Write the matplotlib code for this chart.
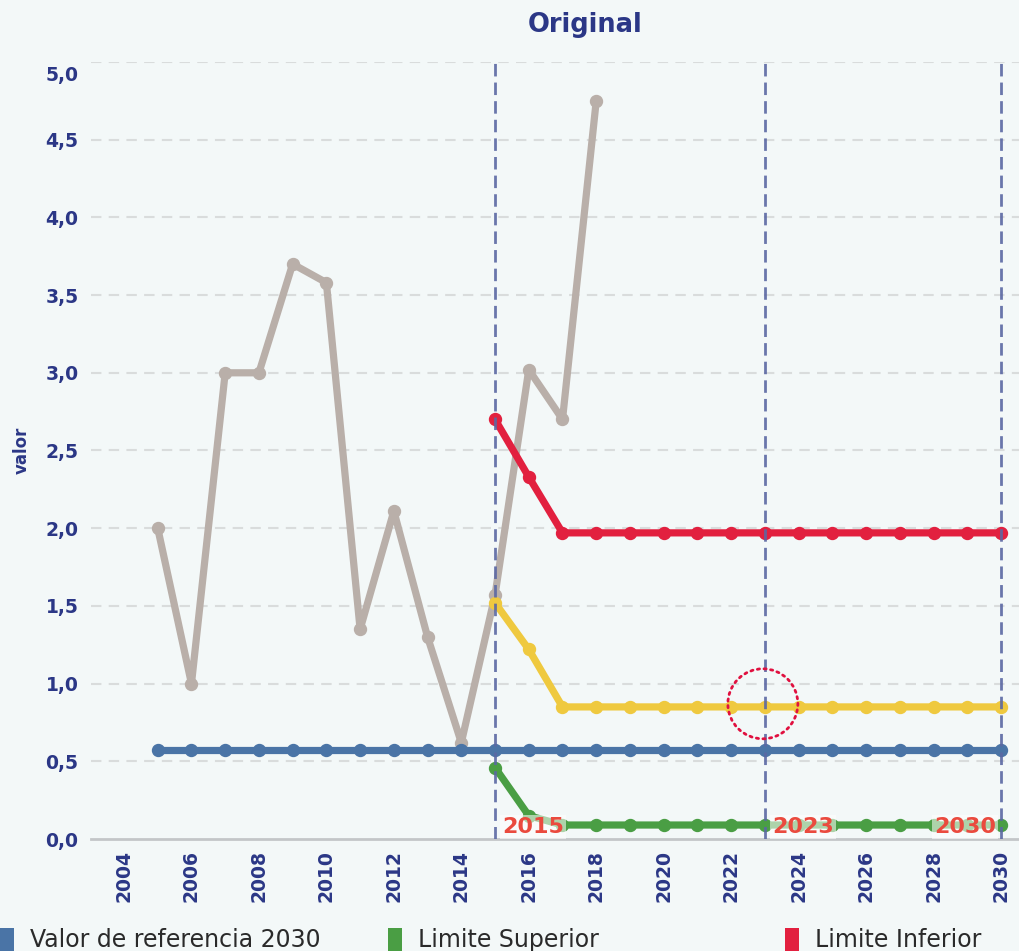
import matplotlib
matplotlib.use("Agg")
import matplotlib.pyplot as plt
import matplotlib.transforms as mtransforms
from matplotlib.patches import Ellipse
from matplotlib import font_manager as fm

# ---- data ----
years_orig = [2005, 2006, 2007, 2008, 2009, 2010, 2011, 2012, 2013, 2014, 2015, 2016, 2017, 2018]
original = [2.0, 1.0, 3.0, 3.0, 3.7, 3.58, 1.35, 2.11, 1.30, 0.62, 1.57, 3.02, 2.70, 4.75]

years_ref = list(range(2005, 2031))
referencia = [0.57] * len(years_ref)

years_lim = list(range(2015, 2031))
lim_inferior = [2.70, 2.33] + [1.97] * 14
tendencia = [1.52, 1.22] + [0.85] * 14
lim_superior = [0.46, 0.15] + [0.09] * 14

marker_years = [2015, 2023, 2030]
marker_labels = ["2015", "2023", "2030"]

highlight_year = 2023
highlight_value = 0.87

x_ticks = list(range(2004, 2031, 2))
y_ticks = [0.0, 0.5, 1.0, 1.5, 2.0, 2.5, 3.0, 3.5, 4.0, 4.5, 5.0]
y_labels = ["0,0", "0,5", "1,0", "1,5", "2,0", "2,5", "3,0", "3,5", "4,0", "4,5", "5,0"]

legend_labels = ["Valor de referencia 2030", "Limite Superior", "Limite Inferior"]

# ---- style ----
BG = "#f3f8f8"
NAVY = "#2b3786"
C_GRAY = "#b9afa9"
C_RED = "#e2203f"
C_YEL = "#efc93f"
C_BLUE = "#4a74a6"
C_GREEN = "#4a9e44"
C_VLINE = "#5b68a3"
C_LBL = "#ea4a3e"

avail = {f.name for f in fm.fontManager.ttflist}
cond = "DejaVu Sans"
for cand in ["DejaVu Sans Condensed", "Liberation Sans Narrow"]:
    if cand in avail:
        cond = cand
        break

W, H = 1020, 951
fig = plt.figure(figsize=(W / 100, H / 100), dpi=100, facecolor=BG)
left, right, top, bottom = 91, 1020, 62, 839
ax = fig.add_axes([left / W, 1 - bottom / H, (right - left) / W, (bottom - top) / H])
ax.set_facecolor(BG)

px_per_year = (1001 - 495) / 15
px_per_unit = (bottom - top) / 5.0
x0 = 2004 - (124 - left) / px_per_year
x1 = 2030 + (right - 1001) / px_per_year
ax.set_xlim(x0, x1)
ax.set_ylim(0, 5.0)

lw = 5.2
ms = 8.6
ax.plot(years_orig, original, color=C_GRAY, lw=lw, marker="o", ms=ms, zorder=2, solid_capstyle="round")
ax.plot(years_lim, lim_inferior, color=C_RED, lw=lw, marker="o", ms=ms, zorder=3)
ax.plot(years_lim, tendencia, color=C_YEL, lw=lw, marker="o", ms=ms, zorder=3)
ax.plot(years_ref, referencia, color=C_BLUE, lw=lw, marker="o", ms=ms, zorder=4)
ax.plot(years_lim, lim_superior, color=C_GREEN, lw=lw, marker="o", ms=ms, zorder=4)

for yv in y_ticks[1:]:
    ax.axhline(yv, color="#d9dcdc", lw=1.5, ls=(0, (5, 3.5)), zorder=1)

for xv in marker_years:
    ax.axvline(xv, color=C_VLINE, lw=2.0, ls=(0, (4.5, 2.2)), alpha=0.9, zorder=6)

# dotted highlight circle
r_px = 35
ax.add_patch(Ellipse((highlight_year - 2 / px_per_year, highlight_value),
                     2 * r_px / px_per_year, 2 * r_px / px_per_unit,
                     fill=False, edgecolor="#e0103f", lw=2.0, ls=(0, (0.8, 1.6)),
                     capstyle="round", zorder=8))

for xv, lab in zip(marker_years, marker_labels):
    last = xv == marker_years[-1]
    ax.annotate(lab, (xv, 0), xytext=((-5 if last else 7), 12), textcoords="offset pixels",
                ha=("right" if last else "left"), va="center", color=C_LBL,
                fontsize=16, fontweight="bold",
                bbox=dict(boxstyle="square,pad=0.1", fc="white", ec="none", alpha=0.55), zorder=7)

ax.set_xticks(x_ticks)
ax.set_xticklabels([str(v) for v in x_ticks], rotation=90, fontsize=13.5,
                   fontweight="bold", color=NAVY)
ax.set_yticks(y_ticks)
ax.set_yticklabels(y_labels, fontsize=13.5, fontweight="bold", color=NAVY)
ax.tick_params(axis="both", length=0)
ax.tick_params(axis="x", pad=8)
ax.tick_params(axis="y", pad=9)

# top label sits slightly below its gridline in the reference
top_lbl = ax.get_yticklabels()[-1]
top_lbl.set_transform(top_lbl.get_transform() +
                      mtransforms.ScaledTranslation(0, -12 / 100, fig.dpi_scale_trans))

for s in ["top", "right", "left"]:
    ax.spines[s].set_visible(False)
ax.spines["bottom"].set_color("#c3c6c8")
ax.spines["bottom"].set_linewidth(2)

fig.text(22 / W, 1 - 450 / H, "valor", rotation=90, ha="center", va="center",
         fontsize=12, fontweight="bold", color=NAVY)
fig.text(585 / W, 1 - 25 / H, "Original", ha="center", va="center",
         fontsize=18.5, fontweight="bold", color=NAVY)

# legend (manual placement at the clipped bottom edge)
leg_colors = [C_BLUE, C_GREEN, C_RED]
leg_x = [0, 388, 785]
for xx, col, lab in zip(leg_x, leg_colors, legend_labels):
    fig.patches.append(plt.Rectangle((xx / W, 1 - 951 / H), 14 / W, 23 / H,
                                     transform=fig.transFigure, facecolor=col, edgecolor="none"))
    fig.text((xx + 30) / W, 1 - 940 / H, lab, ha="left", va="center",
             fontsize=17, color="#2a2a2a", family=cond)

fig.savefig("out.png", dpi=100, facecolor=BG)
